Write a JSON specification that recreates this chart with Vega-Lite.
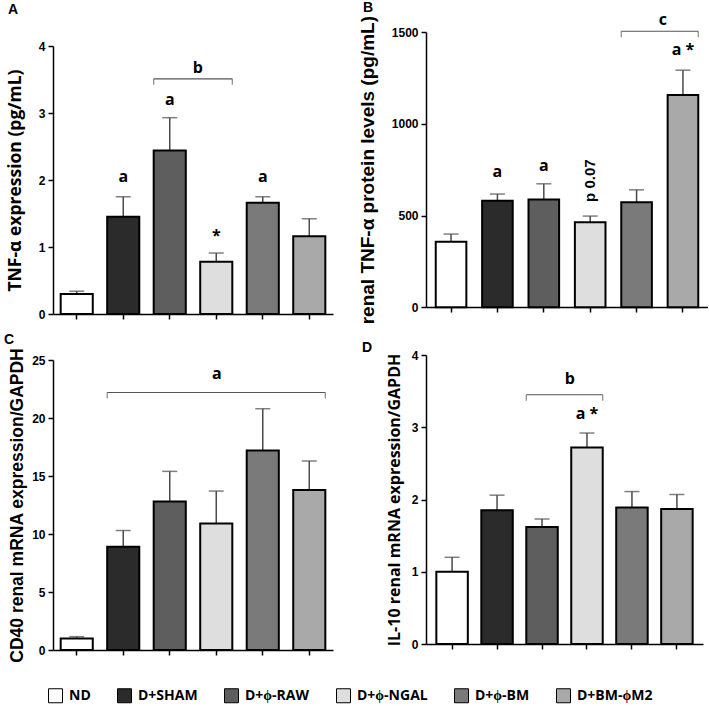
{
  "$schema": "https://vega.github.io/schema/vega-lite/v6.json",
  "padding": {"left": 4, "top": 0, "right": 0, "bottom": 0},
  "background": "white",
  "config": {
    "view": {"stroke": null},
    "axis": {"grid": false, "domainColor": "black", "domainWidth": 1.5, "tickColor": "black", "tickWidth": 1.5, "tickSize": 5, "labelFont": "Liberation Sans", "labelFontWeight": "bold", "labelFontSize": 12, "labelColor": "black", "labelPadding": 3, "titleColor": "black", "titleFontWeight": "bold"},
    "axisX": {"labels": false, "title": null}
  },
  "datasets": {
    "bars": [
      {"panel": "A", "group": "ND", "mean": 0.30, "upper": 0.34},
      {"panel": "A", "group": "D+SHAM", "mean": 1.45, "upper": 1.75},
      {"panel": "A", "group": "D+ϕ-RAW", "mean": 2.44, "upper": 2.93},
      {"panel": "A", "group": "D+ϕ-NGAL", "mean": 0.78, "upper": 0.91},
      {"panel": "A", "group": "D+ϕ-BM", "mean": 1.66, "upper": 1.75},
      {"panel": "A", "group": "D+BM-ϕM2", "mean": 1.16, "upper": 1.42},
      {"panel": "B", "group": "ND", "mean": 357, "upper": 399},
      {"panel": "B", "group": "D+SHAM", "mean": 580, "upper": 617},
      {"panel": "B", "group": "D+ϕ-RAW", "mean": 588, "upper": 673},
      {"panel": "B", "group": "D+ϕ-NGAL", "mean": 463, "upper": 497},
      {"panel": "B", "group": "D+ϕ-BM", "mean": 573, "upper": 640},
      {"panel": "B", "group": "D+BM-ϕM2", "mean": 1157, "upper": 1292},
      {"panel": "C", "group": "ND", "mean": 1.0, "upper": 1.15},
      {"panel": "C", "group": "D+SHAM", "mean": 8.9, "upper": 10.3},
      {"panel": "C", "group": "D+ϕ-RAW", "mean": 12.8, "upper": 15.4},
      {"panel": "C", "group": "D+ϕ-NGAL", "mean": 10.9, "upper": 13.7},
      {"panel": "C", "group": "D+ϕ-BM", "mean": 17.2, "upper": 20.8},
      {"panel": "C", "group": "D+BM-ϕM2", "mean": 13.8, "upper": 16.3},
      {"panel": "D", "group": "ND", "mean": 1.00, "upper": 1.20},
      {"panel": "D", "group": "D+SHAM", "mean": 1.85, "upper": 2.06},
      {"panel": "D", "group": "D+ϕ-RAW", "mean": 1.62, "upper": 1.73},
      {"panel": "D", "group": "D+ϕ-NGAL", "mean": 2.72, "upper": 2.92},
      {"panel": "D", "group": "D+ϕ-BM", "mean": 1.89, "upper": 2.11},
      {"panel": "D", "group": "D+BM-ϕM2", "mean": 1.87, "upper": 2.07}
    ],
    "notes": [
      {"panel": "A", "group": "D+SHAM", "label": "a", "y": 1.97},
      {"panel": "A", "group": "D+ϕ-RAW", "label": "a", "y": 3.12},
      {"panel": "A", "group": "D+ϕ-BM", "label": "a", "y": 1.97},
      {"panel": "A", "group": "D+ϕ-NGAL", "label": "*", "y": 1.09},
      {"panel": "B", "group": "D+SHAM", "label": "a", "y": 711},
      {"panel": "B", "group": "D+ϕ-RAW", "label": "a", "y": 742},
      {"panel": "B", "group": "D+BM-ϕM2", "label": "a *", "y": 1373},
      {"panel": "D", "group": "D+ϕ-NGAL", "label": "a *", "y": 3.11}
    ],
    "vnotes": [
      {"panel": "B", "group": "D+ϕ-NGAL", "label": "p 0.07", "y": 690}
    ],
    "brackets": [
      {"panel": "A", "from": "D+ϕ-RAW", "to": "D+ϕ-NGAL", "y": 3.51, "label": "b", "ly": 3.60},
      {"panel": "B", "from": "D+ϕ-BM", "to": "D+BM-ϕM2", "y": 1504, "label": "c", "ly": 1537},
      {"panel": "C", "from": "D+SHAM", "to": "D+BM-ϕM2", "y": 22.2, "label": "a", "ly": 23.4},
      {"panel": "D", "from": "D+ϕ-RAW", "to": "D+ϕ-NGAL", "y": 3.45, "label": "b", "ly": 3.60}
    ]
  },
  "bounds": "flush",
  "align": "each",
  "columns": 2,
  "spacing": {"row": 41, "column": 93},
  "resolve": {"scale": {"color": "shared"}, "legend": {"color": "shared"}},
  "concat": [
    {
      "width": 280, "height": 282,
      "title": {"text": "A", "anchor": "start", "frame": "group", "dx": -45, "offset": 15.5, "fontSize": 14, "fontWeight": "bold", "font": "Liberation Sans", "color": "black"},
      "layer": [
        {"data": {"name": "bars"}, "transform": [{"filter": "datum.panel === 'A'"}],
         "mark": {"type": "rule", "color": "#4a4a4a", "strokeWidth": 1.5},
         "encoding": {
           "x": {"field": "group", "type": "nominal", "sort": null, "title": null, "scale": {"domain": ["ND", "D+SHAM", "D+ϕ-RAW", "D+ϕ-NGAL", "D+ϕ-BM", "D+BM-ϕM2"], "paddingInner": 0.31, "paddingOuter": 0.165}, "axis": {"title": null, "labels": false}},
           "y": {"field": "mean", "type": "quantitative", "scale": {"domain": [0, 4], "range": [282, 14], "nice": false}, "axis": {"values": [0, 1, 2, 3, 4], "format": "d", "title": "TNF-α expression (pg/mL)", "titleFont": "Open Sans", "titleFontSize": 17.5, "titlePadding": 14}},
           "y2": {"field": "upper"}}},
        {"data": {"name": "bars"}, "transform": [{"filter": "datum.panel === 'A'"}],
         "mark": {"type": "tick", "color": "#4a4a4a", "thickness": 1.5, "size": 15},
         "encoding": {"x": {"field": "group", "type": "nominal", "sort": null}, "y": {"field": "upper", "type": "quantitative"}}},
        {"data": {"name": "bars"}, "transform": [{"filter": "datum.panel === 'A'"}],
         "mark": {"type": "bar", "stroke": "black", "strokeWidth": 2},
         "encoding": {"x": {"field": "group", "type": "nominal", "sort": null}, "y": {"field": "mean", "type": "quantitative"},
           "color": {"field": "group", "type": "nominal", "sort": null, "scale": {"domain": ["ND", "D+SHAM", "D+ϕ-RAW", "D+ϕ-NGAL", "D+ϕ-BM", "D+BM-ϕM2"], "range": ["#ffffff", "#2b2b2b", "#5e5e5e", "#dedede", "#7a7a7a", "#a9a9a9"]},
             "legend": {"title": null, "orient": "none", "legendX": -5, "legendY": 656, "direction": "horizontal", "symbolType": "square", "symbolSize": 196, "symbolStrokeColor": "black", "symbolStrokeWidth": 1, "symbolOpacity": 1, "labelFont": "Open Sans", "labelFontSize": 14, "labelFontWeight": "bold", "labelColor": "black", "labelOffset": 6, "columnPadding": 24, "labelLimit": 200}}}},
        {"data": {"name": "notes"}, "transform": [{"filter": "datum.panel === 'A'"}],
         "mark": {"type": "text", "font": "Open Sans", "fontWeight": "bold", "fontSize": 16, "baseline": "alphabetic", "color": "black"},
         "encoding": {"x": {"field": "group", "type": "nominal", "sort": null}, "y": {"field": "y", "type": "quantitative"}, "text": {"field": "label"}}},
        {"data": {"name": "brackets"}, "transform": [{"filter": "datum.panel === 'A'"}],
         "mark": {"type": "rule", "color": "#555555", "strokeWidth": 1.2},
         "encoding": {"x": {"field": "from", "type": "nominal", "bandPosition": 0}, "x2": {"field": "to", "bandPosition": 1}, "y": {"field": "y", "type": "quantitative"}}},
        {"data": {"name": "brackets"}, "transform": [{"filter": "datum.panel === 'A'"}],
         "mark": {"type": "tick", "orient": "vertical", "color": "#555555", "thickness": 1.2, "size": 6, "yOffset": 3},
         "encoding": {"x": {"field": "from", "type": "nominal", "bandPosition": 0}, "y": {"field": "y", "type": "quantitative"}}},
        {"data": {"name": "brackets"}, "transform": [{"filter": "datum.panel === 'A'"}],
         "mark": {"type": "tick", "orient": "vertical", "color": "#555555", "thickness": 1.2, "size": 6, "yOffset": 3},
         "encoding": {"x": {"field": "to", "type": "nominal", "bandPosition": 1}, "y": {"field": "y", "type": "quantitative"}}},
        {"data": {"name": "brackets"}, "transform": [{"filter": "datum.panel === 'A'"}],
         "mark": {"type": "text", "font": "Open Sans", "fontWeight": "bold", "fontSize": 16, "baseline": "alphabetic", "color": "black"},
         "encoding": {"x": {"field": "from", "type": "nominal", "bandPosition": 1.375}, "y": {"field": "ly", "type": "quantitative"}, "text": {"field": "label"}}}
      ]
    },
    {
      "width": 282, "height": 282,
      "title": {"text": "B", "anchor": "start", "frame": "group", "dx": -63, "offset": -2.5, "fontSize": 14, "fontWeight": "bold", "font": "Liberation Sans", "color": "black"},
      "layer": [
        {"data": {"name": "bars"}, "transform": [{"filter": "datum.panel === 'B'"}],
         "mark": {"type": "rule", "color": "#4a4a4a", "strokeWidth": 1.5},
         "encoding": {
           "x": {"field": "group", "type": "nominal", "sort": null, "title": null, "scale": {"domain": ["ND", "D+SHAM", "D+ϕ-RAW", "D+ϕ-NGAL", "D+ϕ-BM", "D+BM-ϕM2"], "paddingInner": 0.34, "paddingOuter": 0.21}, "axis": {"title": null, "labels": false, "offset": -7}},
           "y": {"field": "mean", "type": "quantitative", "scale": {"domain": [0, 1500], "range": [275.3, 0], "nice": false}, "axis": {"values": [0, 500, 1000, 1500], "format": "d", "title": "renal TNF-α  protein levels (pg/mL)", "titleFont": "Liberation Sans", "titleFontSize": 19, "titlePadding": 14}},
           "y2": {"field": "upper"}}},
        {"data": {"name": "bars"}, "transform": [{"filter": "datum.panel === 'B'"}],
         "mark": {"type": "tick", "color": "#4a4a4a", "thickness": 1.5, "size": 15},
         "encoding": {"x": {"field": "group", "type": "nominal", "sort": null}, "y": {"field": "upper", "type": "quantitative"}}},
        {"data": {"name": "bars"}, "transform": [{"filter": "datum.panel === 'B'"}],
         "mark": {"type": "bar", "stroke": "black", "strokeWidth": 2},
         "encoding": {"x": {"field": "group", "type": "nominal", "sort": null}, "y": {"field": "mean", "type": "quantitative"},
           "color": {"field": "group", "type": "nominal", "sort": null, "scale": {"domain": ["ND", "D+SHAM", "D+ϕ-RAW", "D+ϕ-NGAL", "D+ϕ-BM", "D+BM-ϕM2"], "range": ["#ffffff", "#2b2b2b", "#5e5e5e", "#dedede", "#7a7a7a", "#a9a9a9"]},
             "legend": {"title": null, "orient": "none", "legendX": -5, "legendY": 656, "direction": "horizontal", "symbolType": "square", "symbolSize": 196, "symbolStrokeColor": "black", "symbolStrokeWidth": 1, "symbolOpacity": 1, "labelFont": "Open Sans", "labelFontSize": 14, "labelFontWeight": "bold", "labelColor": "black", "labelOffset": 6, "columnPadding": 24, "labelLimit": 200}}}},
        {"data": {"name": "notes"}, "transform": [{"filter": "datum.panel === 'B'"}],
         "mark": {"type": "text", "font": "Open Sans", "fontWeight": "bold", "fontSize": 16, "baseline": "alphabetic", "color": "black"},
         "encoding": {"x": {"field": "group", "type": "nominal", "sort": null}, "y": {"field": "y", "type": "quantitative"}, "text": {"field": "label"}}},
        {"data": {"name": "vnotes"},
         "mark": {"type": "text", "angle": 270, "align": "center", "baseline": "middle", "font": "Liberation Sans", "fontWeight": "bold", "fontSize": 15, "color": "black"},
         "encoding": {"x": {"field": "group", "type": "nominal", "sort": null}, "y": {"field": "y", "type": "quantitative"}, "text": {"field": "label"}, "angle": {"value": 270}}},
        {"data": {"name": "brackets"}, "transform": [{"filter": "datum.panel === 'B'"}],
         "mark": {"type": "rule", "color": "#555555", "strokeWidth": 1.2},
         "encoding": {"x": {"field": "from", "type": "nominal", "bandPosition": 0}, "x2": {"field": "to", "bandPosition": 1}, "y": {"field": "y", "type": "quantitative"}}},
        {"data": {"name": "brackets"}, "transform": [{"filter": "datum.panel === 'B'"}],
         "mark": {"type": "tick", "orient": "vertical", "color": "#555555", "thickness": 1.2, "size": 6, "yOffset": 3},
         "encoding": {"x": {"field": "from", "type": "nominal", "bandPosition": 0}, "y": {"field": "y", "type": "quantitative"}}},
        {"data": {"name": "brackets"}, "transform": [{"filter": "datum.panel === 'B'"}],
         "mark": {"type": "tick", "orient": "vertical", "color": "#555555", "thickness": 1.2, "size": 6, "yOffset": 3},
         "encoding": {"x": {"field": "to", "type": "nominal", "bandPosition": 1}, "y": {"field": "y", "type": "quantitative"}}},
        {"data": {"name": "brackets"}, "transform": [{"filter": "datum.panel === 'B'"}],
         "mark": {"type": "text", "font": "Open Sans", "fontWeight": "bold", "fontSize": 16, "baseline": "alphabetic", "color": "black"},
         "encoding": {"x": {"field": "from", "type": "nominal", "bandPosition": 1.36}, "y": {"field": "ly", "type": "quantitative"}, "text": {"field": "label"}}}
      ]
    },
    {
      "width": 280, "height": 295,
      "title": {"text": "C", "anchor": "start", "frame": "group", "dx": -49, "offset": 0.5, "fontSize": 14, "fontWeight": "bold", "font": "Liberation Sans", "color": "black"},
      "layer": [
        {"data": {"name": "bars"}, "transform": [{"filter": "datum.panel === 'C'"}],
         "mark": {"type": "rule", "color": "#4a4a4a", "strokeWidth": 1.5},
         "encoding": {
           "x": {"field": "group", "type": "nominal", "sort": null, "title": null, "scale": {"domain": ["ND", "D+SHAM", "D+ϕ-RAW", "D+ϕ-NGAL", "D+ϕ-BM", "D+BM-ϕM2"], "paddingInner": 0.31, "paddingOuter": 0.165}, "axis": {"title": null, "labels": false}},
           "y": {"field": "mean", "type": "quantitative", "scale": {"domain": [0, 25], "range": [295, 5], "nice": false}, "axis": {"values": [0, 5, 10, 15, 20, 25], "format": "d", "title": "CD40 renal mRNA expression/GAPDH", "titleFont": "Liberation Sans", "titleFontSize": 17.5, "titlePadding": 5}},
           "y2": {"field": "upper"}}},
        {"data": {"name": "bars"}, "transform": [{"filter": "datum.panel === 'C'"}],
         "mark": {"type": "tick", "color": "#4a4a4a", "thickness": 1.5, "size": 15},
         "encoding": {"x": {"field": "group", "type": "nominal", "sort": null}, "y": {"field": "upper", "type": "quantitative"}}},
        {"data": {"name": "bars"}, "transform": [{"filter": "datum.panel === 'C'"}],
         "mark": {"type": "bar", "stroke": "black", "strokeWidth": 2},
         "encoding": {"x": {"field": "group", "type": "nominal", "sort": null}, "y": {"field": "mean", "type": "quantitative"},
           "color": {"field": "group", "type": "nominal", "sort": null, "scale": {"domain": ["ND", "D+SHAM", "D+ϕ-RAW", "D+ϕ-NGAL", "D+ϕ-BM", "D+BM-ϕM2"], "range": ["#ffffff", "#2b2b2b", "#5e5e5e", "#dedede", "#7a7a7a", "#a9a9a9"]},
             "legend": {"title": null, "orient": "none", "legendX": -5, "legendY": 656, "direction": "horizontal", "symbolType": "square", "symbolSize": 196, "symbolStrokeColor": "black", "symbolStrokeWidth": 1, "symbolOpacity": 1, "labelFont": "Open Sans", "labelFontSize": 14, "labelFontWeight": "bold", "labelColor": "black", "labelOffset": 6, "columnPadding": 24, "labelLimit": 200}}}},
        {"data": {"name": "brackets"}, "transform": [{"filter": "datum.panel === 'C'"}],
         "mark": {"type": "rule", "color": "#555555", "strokeWidth": 1.2},
         "encoding": {"x": {"field": "from", "type": "nominal", "bandPosition": 0}, "x2": {"field": "to", "bandPosition": 1}, "y": {"field": "y", "type": "quantitative"}}},
        {"data": {"name": "brackets"}, "transform": [{"filter": "datum.panel === 'C'"}],
         "mark": {"type": "tick", "orient": "vertical", "color": "#555555", "thickness": 1.2, "size": 6, "yOffset": 3},
         "encoding": {"x": {"field": "from", "type": "nominal", "bandPosition": 0}, "y": {"field": "y", "type": "quantitative"}}},
        {"data": {"name": "brackets"}, "transform": [{"filter": "datum.panel === 'C'"}],
         "mark": {"type": "tick", "orient": "vertical", "color": "#555555", "thickness": 1.2, "size": 6, "yOffset": 3},
         "encoding": {"x": {"field": "to", "type": "nominal", "bandPosition": 1}, "y": {"field": "y", "type": "quantitative"}}},
        {"data": {"name": "brackets"}, "transform": [{"filter": "datum.panel === 'C'"}],
         "mark": {"type": "text", "font": "Open Sans", "fontWeight": "bold", "fontSize": 16, "baseline": "alphabetic", "color": "black"},
         "encoding": {"x": {"field": "from", "type": "nominal", "bandPosition": 3.42}, "y": {"field": "ly", "type": "quantitative"}, "text": {"field": "label"}}}
      ]
    },
    {
      "width": 277, "height": 295,
      "title": {"text": "D", "anchor": "start", "frame": "group", "dx": -64, "offset": -6, "fontSize": 14, "fontWeight": "bold", "font": "Liberation Sans", "color": "black"},
      "layer": [
        {"data": {"name": "bars"}, "transform": [{"filter": "datum.panel === 'D'"}],
         "mark": {"type": "rule", "color": "#4a4a4a", "strokeWidth": 1.5},
         "encoding": {
           "x": {"field": "group", "type": "nominal", "sort": null, "title": null, "scale": {"domain": ["ND", "D+SHAM", "D+ϕ-RAW", "D+ϕ-NGAL", "D+ϕ-BM", "D+BM-ϕM2"], "paddingInner": 0.3, "paddingOuter": 0.23}, "axis": {"title": null, "labels": false, "offset": -6}},
           "y": {"field": "mean", "type": "quantitative", "scale": {"domain": [0, 4], "range": [289, 0], "nice": false}, "axis": {"values": [0, 1, 2, 3, 4], "format": "d", "title": "IL-10 renal mRNA expression/GAPDH", "titleFont": "Open Sans", "titleFontSize": 16, "titlePadding": 8.5}},
           "y2": {"field": "upper"}}},
        {"data": {"name": "bars"}, "transform": [{"filter": "datum.panel === 'D'"}],
         "mark": {"type": "tick", "color": "#4a4a4a", "thickness": 1.5, "size": 15},
         "encoding": {"x": {"field": "group", "type": "nominal", "sort": null}, "y": {"field": "upper", "type": "quantitative"}}},
        {"data": {"name": "bars"}, "transform": [{"filter": "datum.panel === 'D'"}],
         "mark": {"type": "bar", "stroke": "black", "strokeWidth": 2},
         "encoding": {"x": {"field": "group", "type": "nominal", "sort": null}, "y": {"field": "mean", "type": "quantitative"},
           "color": {"field": "group", "type": "nominal", "sort": null, "scale": {"domain": ["ND", "D+SHAM", "D+ϕ-RAW", "D+ϕ-NGAL", "D+ϕ-BM", "D+BM-ϕM2"], "range": ["#ffffff", "#2b2b2b", "#5e5e5e", "#dedede", "#7a7a7a", "#a9a9a9"]},
             "legend": {"title": null, "orient": "none", "legendX": -5, "legendY": 656, "direction": "horizontal", "symbolType": "square", "symbolSize": 196, "symbolStrokeColor": "black", "symbolStrokeWidth": 1, "symbolOpacity": 1, "labelFont": "Open Sans", "labelFontSize": 14, "labelFontWeight": "bold", "labelColor": "black", "labelOffset": 6, "columnPadding": 24, "labelLimit": 200}}}},
        {"data": {"name": "notes"}, "transform": [{"filter": "datum.panel === 'D'"}],
         "mark": {"type": "text", "font": "Open Sans", "fontWeight": "bold", "fontSize": 16, "baseline": "alphabetic", "color": "black"},
         "encoding": {"x": {"field": "group", "type": "nominal", "sort": null}, "y": {"field": "y", "type": "quantitative"}, "text": {"field": "label"}}},
        {"data": {"name": "brackets"}, "transform": [{"filter": "datum.panel === 'D'"}],
         "mark": {"type": "rule", "color": "#555555", "strokeWidth": 1.2},
         "encoding": {"x": {"field": "from", "type": "nominal", "bandPosition": 0}, "x2": {"field": "to", "bandPosition": 1}, "y": {"field": "y", "type": "quantitative"}}},
        {"data": {"name": "brackets"}, "transform": [{"filter": "datum.panel === 'D'"}],
         "mark": {"type": "tick", "orient": "vertical", "color": "#555555", "thickness": 1.2, "size": 6, "yOffset": 3},
         "encoding": {"x": {"field": "from", "type": "nominal", "bandPosition": 0}, "y": {"field": "y", "type": "quantitative"}}},
        {"data": {"name": "brackets"}, "transform": [{"filter": "datum.panel === 'D'"}],
         "mark": {"type": "tick", "orient": "vertical", "color": "#555555", "thickness": 1.2, "size": 6, "yOffset": 3},
         "encoding": {"x": {"field": "to", "type": "nominal", "bandPosition": 1}, "y": {"field": "y", "type": "quantitative"}}},
        {"data": {"name": "brackets"}, "transform": [{"filter": "datum.panel === 'D'"}],
         "mark": {"type": "text", "font": "Open Sans", "fontWeight": "bold", "fontSize": 16, "baseline": "alphabetic", "color": "black"},
         "encoding": {"x": {"field": "from", "type": "nominal", "bandPosition": 1.38}, "y": {"field": "ly", "type": "quantitative"}, "text": {"field": "label"}}}
      ]
    }
  ]
}
